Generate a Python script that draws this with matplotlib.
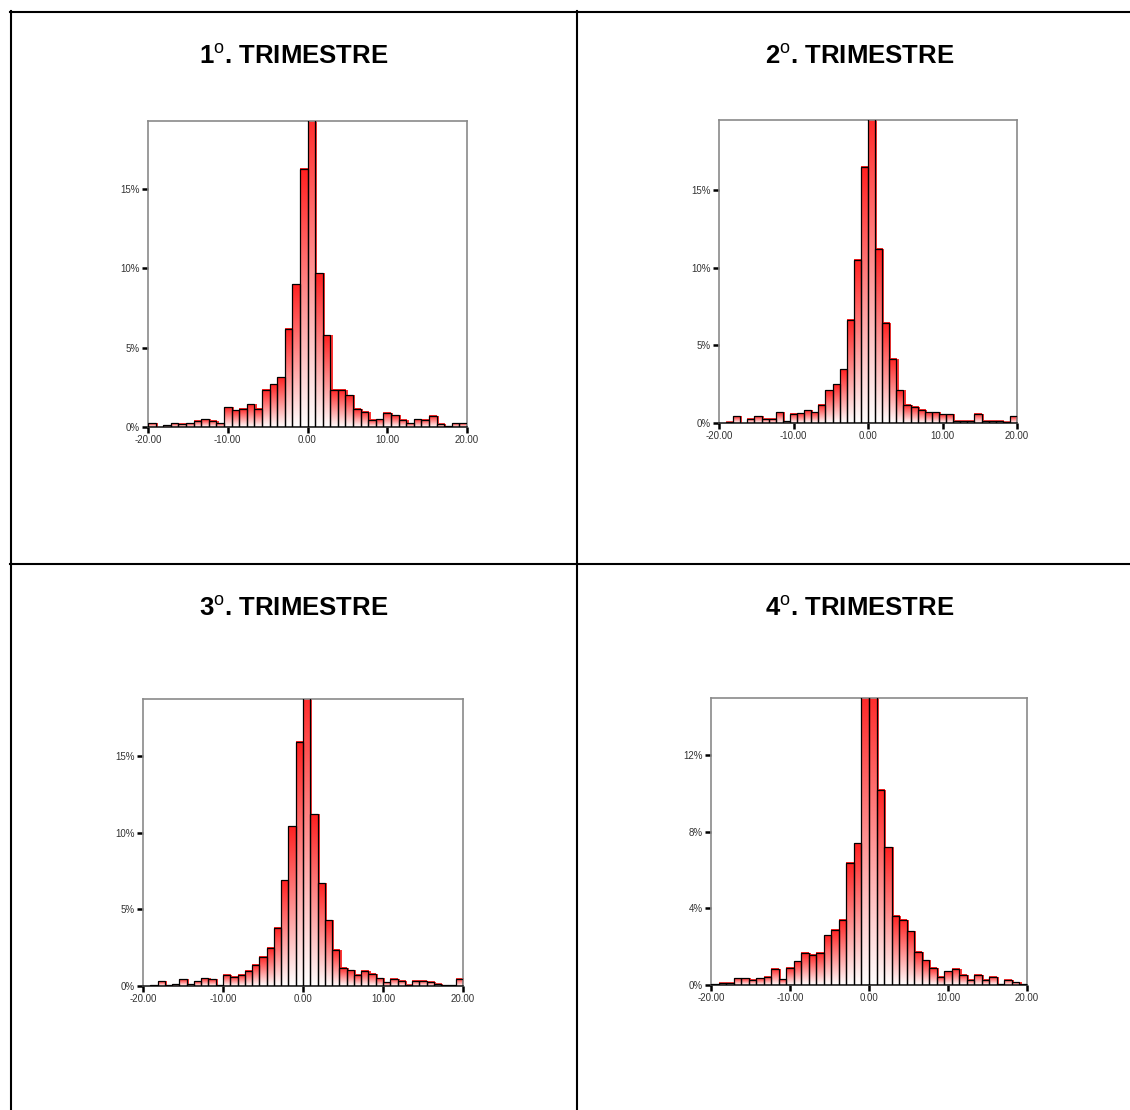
import numpy as np
import matplotlib
matplotlib.use("Agg")
import matplotlib.pyplot as plt
from matplotlib.colors import LinearSegmentedColormap
from matplotlib.patches import Rectangle
from matplotlib.lines import Line2D

plt.rcParams['font.family'] = ['Liberation Sans', 'DejaVu Sans']
plt.rcParams['mathtext.fontset'] = 'custom'
plt.rcParams['mathtext.rm'] = 'Liberation Sans'

# ---------------- data (percent of cases per bin, bins spread evenly over -20..20) -------------
titles = [r'1$^{\mathrm{o}}$. TRIMESTRE', r'2$^{\mathrm{o}}$. TRIMESTRE',
          r'3$^{\mathrm{o}}$. TRIMESTRE', r'4$^{\mathrm{o}}$. TRIMESTRE']

q1 = [0.25, 0, 0.1, 0.25, 0.2, 0.25, 0.4, 0.5, 0.4, 0.25, 1.25, 1.05, 1.15, 1.45, 1.15,
      2.35, 2.7, 3.15, 6.2, 9.0, 16.3,
      20.5, 9.7, 5.8, 2.35, 2.35, 2.0, 1.15, 0.95, 0.45, 0.5, 0.9, 0.75, 0.45, 0.25,
      0.5, 0.45, 0.7, 0.2, 0.05, 0.25, 0.25]
q2 = [0, 0.08, 0.43, 0, 0.27, 0.42, 0.28, 0.28, 0.7, 0.12, 0.6, 0.62, 0.83, 0.7, 1.19,
      2.1, 2.48, 3.45, 6.65, 10.5, 16.5,
      20.5, 11.2, 6.45, 4.15, 2.1, 1.19, 1.04, 0.86, 0.7, 0.7, 0.57, 0.57, 0.16, 0.16,
      0.16, 0.6, 0.16, 0.16, 0.16, 0.07, 0.44]
q3 = [0, 0.05, 0.3, 0.05, 0.1, 0.45, 0.1, 0.3, 0.5, 0.45, 0.05, 0.72, 0.6, 0.72, 1.0,
      1.4, 1.9, 2.5, 3.8, 6.9, 10.4, 15.9,
      20.0, 11.2, 6.7, 4.3, 2.35, 1.18, 1.02, 0.72, 1.0, 0.8, 0.52, 0.26, 0.46, 0.35,
      0.09, 0.35, 0.35, 0.28, 0.15, 0.05, 0.05, 0.46]
q4 = [0.03, 0.12, 0.12, 0.35, 0.35, 0.27, 0.35, 0.43, 0.85, 0.29, 0.89, 1.25, 1.69,
      1.58, 1.69, 2.59, 2.89, 3.41, 6.4, 7.4, 15.6,
      15.8, 10.2, 7.2, 3.63, 3.42, 2.8, 1.74, 1.3, 0.89, 0.43, 0.73, 0.85, 0.54, 0.28,
      0.54, 0.28, 0.43, 0.04, 0.28, 0.14, 0.04]

xticks = [-20, -10, 0, 10, 20]
xticklabels = ['-20.00', '-10.00', '0.00', '10.00', '20.00']
yticks_a = [0, 5, 10, 15]
yticks_b = [0, 4, 8, 12]
ytop = [19.3, 19.5, 18.7, 15.0]

# ---------------- layout (pixels of the 1130x1110 picture) -------------------------------------
W, H = 1130, 1110
boxes = [(148, 121, 467, 427), (719, 120, 1017, 423),
         (143, 699, 463, 986), (711, 698, 1027, 985)]
title_pos = [(294, 56), (860, 56), (294, 608), (860, 608)]

cmap = LinearSegmentedColormap.from_list('grad', ['#ffffff', '#ff2020'])
grad = np.linspace(0, 1, 256).reshape(-1, 1)


def draw_hist(ax, values):
    n = len(values)
    edges = np.linspace(-20, 20, n + 1)
    w = edges[1] - edges[0]
    for x0, h in zip(edges[:-1], values):
        if h <= 0:
            continue
        # red drop shadow on the right
        ax.add_patch(Rectangle((x0 + 0.3 * w, 0), w, h, facecolor='#ff3535',
                               edgecolor='none', zorder=1))
        # white -> red gradient
        ax.imshow(grad, extent=(x0, x0 + w, 0, h), origin='lower', cmap=cmap,
                  aspect='auto', zorder=2, interpolation='bilinear')
        ax.add_patch(Rectangle((x0, 0), w, h, facecolor='none', edgecolor='black',
                               lw=0.9, zorder=3))


fig = plt.figure(figsize=(W / 100, H / 100), dpi=100)

data = [q1, q2, q3, q4]
for i, vals in enumerate(data):
    l, t, r, b = boxes[i]
    ax = fig.add_axes([l / W, 1 - b / H, (r - l) / W, (b - t) / H])
    draw_hist(ax, vals)
    ax.set_xlim(-20, 20)
    ax.set_ylim(0, ytop[i])
    yt = yticks_b if i == 3 else yticks_a
    ax.set_yticks(yt)
    ax.set_yticklabels([f'{v}%' for v in yt])
    ax.set_xticks(xticks)
    ax.set_xticklabels(xticklabels)
    ax.tick_params(direction='out', length=4, width=1.8, color='black',
                   labelsize=7, labelcolor='#333333', pad=2)
    for s in ['top', 'right', 'left']:
        ax.spines[s].set_color('#8a8a8a')
        ax.spines[s].set_linewidth(1.2)
    ax.spines['bottom'].set_color('#222222')
    ax.spines['bottom'].set_linewidth(1.2)

    x, y = title_pos[i]
    fig.text(x / W, 1 - y / H, titles[i], ha='center', va='center',
             fontsize=18.5, fontweight='bold')

# table grid around the four charts
def hline(y, x0, x1):
    fig.add_artist(Line2D([x0 / W, x1 / W], [1 - y / H, 1 - y / H],
                          transform=fig.transFigure, color='black', lw=1.5))

def vline(x, y0, y1):
    fig.add_artist(Line2D([x / W, x / W], [1 - y0 / H, 1 - y1 / H],
                          transform=fig.transFigure, color='black', lw=1.5))

hline(12, 10, W)
hline(564, 10, W)
vline(11, 11, H)
vline(577, 11, H)

fig.savefig('out.png', dpi=100)
